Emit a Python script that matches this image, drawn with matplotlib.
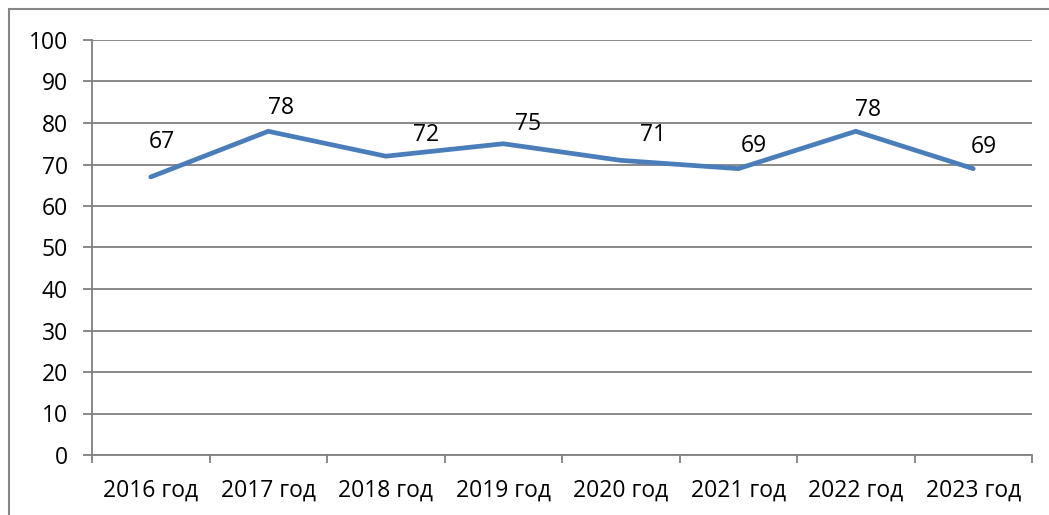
import numpy as np
import matplotlib.pyplot as plt
from matplotlib.patches import Rectangle

# data
years = ['2016 год', '2017 год', '2018 год', '2019 год',
         '2020 год', '2021 год', '2022 год', '2023 год']
values = [67, 78, 72, 75, 71, 69, 78, 69]

# label offsets in pixels (labels were placed by hand in the original)
label_dx = [11, 13, 40, 25, 32, 16, 12, 11]
label_dy = [35, 23, 21, 20, 25, 23, 21, 22]

plt.rcParams['font.family'] = ['Open Sans', 'DejaVu Sans']

fig = plt.figure(figsize=(10.49, 5.15), dpi=100)
ax = fig.add_axes([92/1049, 60/515, 940/1049, 415/515])

x = np.arange(len(years))
ax.plot(x, values, color='#4A7EBB', linewidth=3.4, solid_capstyle='round',
        solid_joinstyle='miter', zorder=3)

for xi, v, dx, dy in zip(x, values, label_dx, label_dy):
    ax.annotate(str(v), (xi, v), xytext=(dx, dy), textcoords='offset pixels',
                ha='center', va='center', fontsize=16.5, color='black')

ax.set_xlim(-0.5, len(years) - 0.5)
ax.set_ylim(0, 100)
ax.set_yticks(range(0, 101, 10))
ax.set_xticks(x)
ax.set_xticklabels(years)
ax.set_xticks(np.arange(-0.5, len(years)), minor=True)

ax.grid(axis='y', color='#808080', linewidth=1.3, zorder=0)
ax.tick_params(axis='y', length=6.5, width=1.3, color='#808080', labelsize=16.5, pad=11)
ax.tick_params(axis='x', which='major', length=0, labelsize=16.5, pad=17)
ax.tick_params(axis='x', which='minor', length=6, width=1.3, color='#808080')

for s in ['top', 'right']:
    ax.spines[s].set_visible(False)
for s in ['left', 'bottom']:
    ax.spines[s].set_color('#808080')
    ax.spines[s].set_linewidth(1.3)

# outer chart border
fig.patches.append(Rectangle((9/1049, -0.05), 1.1, 1 - 9/515 + 0.05,
                             transform=fig.transFigure, fill=False,
                             edgecolor='#868686', linewidth=1.5))

fig.savefig('out.png', dpi=100)
